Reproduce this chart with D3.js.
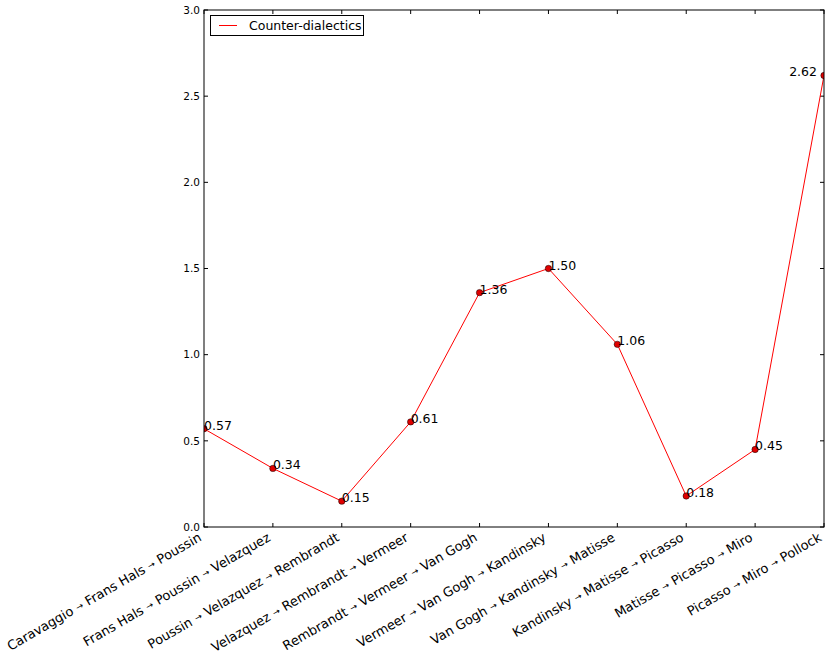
<!DOCTYPE html>
<html><head><meta charset="utf-8">
<script src="https://cdn.jsdelivr.net/npm/d3@7"></script>
<style>body{margin:0;background:#fff}svg{display:block}text{font-family:"DejaVu Sans",sans-serif}</style>
</head><body><svg id="c" width="831" height="660"></svg>
<script>
const categories = [
  "Caravaggio → Frans Hals → Poussin",
  "Frans Hals → Poussin → Velazquez",
  "Poussin → Velazquez → Rembrandt",
  "Velazquez → Rembrandt → Vermeer",
  "Rembrandt → Vermeer → Van Gogh",
  "Vermeer → Van Gogh → Kandinsky",
  "Van Gogh → Kandinsky → Matisse",
  "Kandinsky → Matisse → Picasso",
  "Matisse → Picasso → Miro",
  "Picasso → Miro → Pollock"
];
const values = [0.57, 0.34, 0.15, 0.61, 1.36, 1.50, 1.06, 0.18, 0.45, 2.62];
const yTicks = [0, 0.5, 1.0, 1.5, 2.0, 2.5, 3.0];
const seriesName = "Counter-dialectics";

const L = 204, R = 824, T = 10, B = 527;
const svg = d3.select("#c");
const x = d3.scalePoint().domain(d3.range(categories.length)).range([L, R]);
const y = d3.scaleLinear().domain([0, 3]).range([B, T]);

svg.append("defs").append("clipPath").attr("id","clip")
  .append("rect").attr("x",L).attr("y",T).attr("width",R-L).attr("height",B-T);

const tl = 4;
const g = svg.append("g");
yTicks.forEach(v => {
  g.append("line").attr("x1",L).attr("x2",L+tl).attr("y1",y(v)).attr("y2",y(v)).attr("stroke","#000");
  g.append("line").attr("x1",R).attr("x2",R-tl).attr("y1",y(v)).attr("y2",y(v)).attr("stroke","#000");
  g.append("text").attr("x",L-4).attr("y",y(v)).attr("dy","0.35em").attr("text-anchor","end")
    .attr("font-size","10.5px").text(d3.format(".1f")(v));
});
categories.forEach((c,i) => {
  g.append("line").attr("x1",x(i)).attr("x2",x(i)).attr("y1",B).attr("y2",B-tl).attr("stroke","#000");
  g.append("line").attr("x1",x(i)).attr("x2",x(i)).attr("y1",T).attr("y2",T+tl).attr("stroke","#000");
  const t = g.append("text").attr("text-anchor","end").attr("font-size","13px")
    .attr("transform",`translate(${x(i)-1.5},${B+13}) rotate(-30)`);
  const parts = c.split(" → ");
  parts.forEach((p,k) => {
    if (k > 0) {
      t.append("tspan").text(" ");
      t.append("tspan").attr("font-size","9px").attr("dy","-1").text("→");
      t.append("tspan").attr("dy","1").text(" ");
    }
    t.append("tspan").text(p);
  });
});

const plot = svg.append("g").attr("clip-path","url(#clip)");
plot.append("path").datum(values)
  .attr("d", d3.line().x((d,i)=>x(i)).y(d=>y(d)))
  .attr("fill","none").attr("stroke","#ff0000").attr("stroke-width",1);
plot.selectAll("circle").data(values).join("circle")
  .attr("cx",(d,i)=>x(i)).attr("cy",d=>y(d)).attr("r",3.2)
  .attr("fill","#e00000").attr("stroke","#000").attr("stroke-width",0.5);

values.forEach((v,i) => {
  const last = i === values.length-1;
  svg.append("text").attr("x", last ? x(i)-7 : x(i)).attr("y", y(v)+1)
    .attr("text-anchor", last ? "end" : "start").attr("font-size","12.5px")
    .text(d3.format(".2f")(v));
});

svg.append("rect").attr("x",L).attr("y",T).attr("width",R-L).attr("height",B-T)
  .attr("fill","none").attr("stroke","#000").attr("stroke-width",1);

const lg = svg.append("g");
lg.append("rect").attr("x",210.5).attr("y",15.5).attr("width",153).attr("height",20)
  .attr("fill","#fff").attr("stroke","#000").attr("stroke-width",1);
lg.append("line").attr("x1",219).attr("x2",237).attr("y1",25.5).attr("y2",25.5)
  .attr("stroke","#ff0000").attr("stroke-width",1);
lg.append("text").attr("x",249).attr("y",30).attr("font-size","12.5px").text(seriesName);
</script></body></html>
